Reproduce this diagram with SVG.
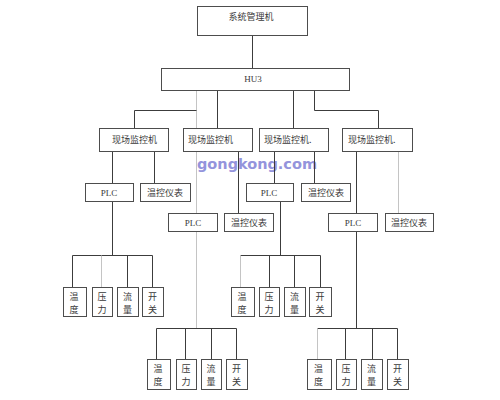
<svg xmlns="http://www.w3.org/2000/svg" width="500" height="400" viewBox="0 0 500 400">
<style>
.b{fill:#fff;stroke:#4d4d4d;stroke-width:1}
.t{font-family:"Noto Sans CJK SC","DejaVu Sans",sans-serif;font-size:9px;fill:#3a3a3a}
.s{font-family:"Liberation Serif",serif;font-size:9px;fill:#3a3a3a}
.c{text-anchor:middle}
.d{fill:none;stroke:#3c3c3c;stroke-width:1}
.g{fill:none;stroke:#c4c4c4;stroke-width:1}
.wm{font-family:"DejaVu Sans",sans-serif;font-weight:bold;font-size:14.5px;fill:#9494dc}
</style>
<rect width="500" height="400" fill="#fff"/>
<text class="wm" x="197" y="169" textLength="120" lengthAdjust="spacingAndGlyphs">gongkong.com</text>
<g id="connectors">
<path class="d" d="M252.5 36V68"/>
<path class="g" d="M196.5 90V328.5"/>
<path class="d" d="M196.5 110.5H134.5V128"/>
<path class="d" d="M217.5 90V128"/>
<path class="d" d="M293.5 90V128"/>
<path class="d" d="M314.5 90V110.5H378.5V128"/>
<path class="d" d="M112.5 152V183M154.5 152V183"/>
<path class="d" d="M238.5 152V213"/>
<path class="d" d="M274.5 152V183M314.5 152V183"/>
<path class="d" d="M356.5 152V213"/>
<path class="g" d="M398.5 152V213"/>
<path class="d" d="M112.5 201V255.5M72.5 255.5H152.5M72.5 255.5V287M127.5 255.5V287M152.5 255.5V287"/>
<path class="g" d="M101.5 255.5V287"/>
<path class="d" d="M280.5 201V255.5M240.5 255.5H320.5M269.5 255.5V287M294.5 255.5V287M320.5 255.5V287"/>
<path class="g" d="M240.5 255.5V287"/>
<path class="d" d="M156.5 328.5H236.5M156.5 328.5V359M185.5 328.5V359M211.5 328.5V359M236.5 328.5V359"/>
<path class="d" d="M356.5 232V328.5M317.5 328.5H397.5M345.5 328.5V359M372.5 328.5V359M397.5 328.5V359"/>
<path class="g" d="M317.5 328.5V359"/>
</g>
<g id="sys"><rect class="b" x="197.5" y="6.5" width="110" height="29"/><text class="t c" x="251" y="20">系统管理机</text></g>
<g id="hub"><rect class="b" x="161.5" y="68.5" width="188" height="22"/><text class="s c" x="253" y="82">HU3</text></g>
<g id="f1"><rect class="b" x="99.5" y="128.5" width="69" height="23"/><text class="t" x="112" y="143">现场监控机</text></g>
<g id="f2"><rect class="b" x="183.5" y="128.5" width="69" height="23"/><text class="t" x="188" y="143">现场监控机</text></g>
<g id="f3"><rect class="b" x="259.5" y="128.5" width="69" height="23"/><text class="t" x="264" y="143">现场监控机.</text></g>
<g id="f4"><rect class="b" x="342.5" y="128.5" width="70" height="23"/><text class="t" x="348" y="143">现场监控机.</text></g>
<g id="plc1"><rect class="b" x="85.5" y="183.5" width="48" height="18"/><text class="s c" x="109" y="196">PLC</text></g>
<g id="tc1"><rect class="b" x="140.5" y="183.5" width="50" height="18"/><text class="t c" x="165" y="196">温控仪表</text></g>
<g id="plc2"><rect class="b" x="168.5" y="213.5" width="49" height="18"/><text class="s c" x="193" y="226">PLC</text></g>
<g id="tc2"><rect class="b" x="224.5" y="213.5" width="49" height="18"/><text class="t c" x="249" y="226">温控仪表</text></g>
<g id="plc3"><rect class="b" x="246.5" y="183.5" width="47" height="18"/><text class="s c" x="269" y="196">PLC</text></g>
<g id="tc3"><rect class="b" x="301.5" y="183.5" width="49" height="18"/><text class="t c" x="326" y="196">温控仪表</text></g>
<g id="plc4"><rect class="b" x="328.5" y="213.5" width="49" height="18"/><text class="s c" x="353" y="226">PLC</text></g>
<g id="tc4"><rect class="b" x="385.5" y="213.5" width="48" height="18"/><text class="t c" x="409" y="226">温控仪表</text></g>
<g id="a1"><rect class="b" x="63.5" y="287.5" width="23" height="29"/><text class="t c" x="74" y="300">温</text><text class="t c" x="74" y="313">度</text></g>
<g id="a2"><rect class="b" x="92.5" y="287.5" width="20" height="29"/><text class="t c" x="102" y="300">压</text><text class="t c" x="102" y="313">力</text></g>
<g id="a3"><rect class="b" x="117.5" y="287.5" width="21" height="29"/><text class="t c" x="127.5" y="300">流</text><text class="t c" x="127.5" y="313">量</text></g>
<g id="a4"><rect class="b" x="142.5" y="287.5" width="21" height="29"/><text class="t c" x="152.5" y="300">开</text><text class="t c" x="152.5" y="313">关</text></g>
<g id="b1"><rect class="b" x="231.5" y="287.5" width="23" height="29"/><text class="t c" x="242" y="300">温</text><text class="t c" x="242" y="313">度</text></g>
<g id="b2"><rect class="b" x="259.5" y="287.5" width="20" height="29"/><text class="t c" x="269" y="300">压</text><text class="t c" x="269" y="313">力</text></g>
<g id="b3"><rect class="b" x="284.5" y="287.5" width="21" height="29"/><text class="t c" x="294.5" y="300">流</text><text class="t c" x="294.5" y="313">量</text></g>
<g id="b4"><rect class="b" x="309.5" y="287.5" width="22" height="29"/><text class="t c" x="320" y="300">开</text><text class="t c" x="320" y="313">关</text></g>
<g id="c1"><rect class="b" x="147.5" y="359.5" width="23" height="30"/><text class="t c" x="158" y="372">温</text><text class="t c" x="158" y="385">度</text></g>
<g id="c2"><rect class="b" x="176.5" y="359.5" width="20" height="30"/><text class="t c" x="186" y="372">压</text><text class="t c" x="186" y="385">力</text></g>
<g id="c3"><rect class="b" x="201.5" y="359.5" width="20" height="30"/><text class="t c" x="211" y="372">流</text><text class="t c" x="211" y="385">量</text></g>
<g id="c4"><rect class="b" x="226.5" y="359.5" width="21" height="30"/><text class="t c" x="236.5" y="372">开</text><text class="t c" x="236.5" y="385">关</text></g>
<g id="d1"><rect class="b" x="307.5" y="359.5" width="24" height="30"/><text class="t c" x="318.5" y="372">温</text><text class="t c" x="318.5" y="385">度</text></g>
<g id="d2"><rect class="b" x="336.5" y="359.5" width="20" height="30"/><text class="t c" x="346" y="372">压</text><text class="t c" x="346" y="385">力</text></g>
<g id="d3"><rect class="b" x="361.5" y="359.5" width="21" height="30"/><text class="t c" x="371.5" y="372">流</text><text class="t c" x="371.5" y="385">量</text></g>
<g id="d4"><rect class="b" x="387.5" y="359.5" width="21" height="30"/><text class="t c" x="397.5" y="372">开</text><text class="t c" x="397.5" y="385">关</text></g>
</svg>
